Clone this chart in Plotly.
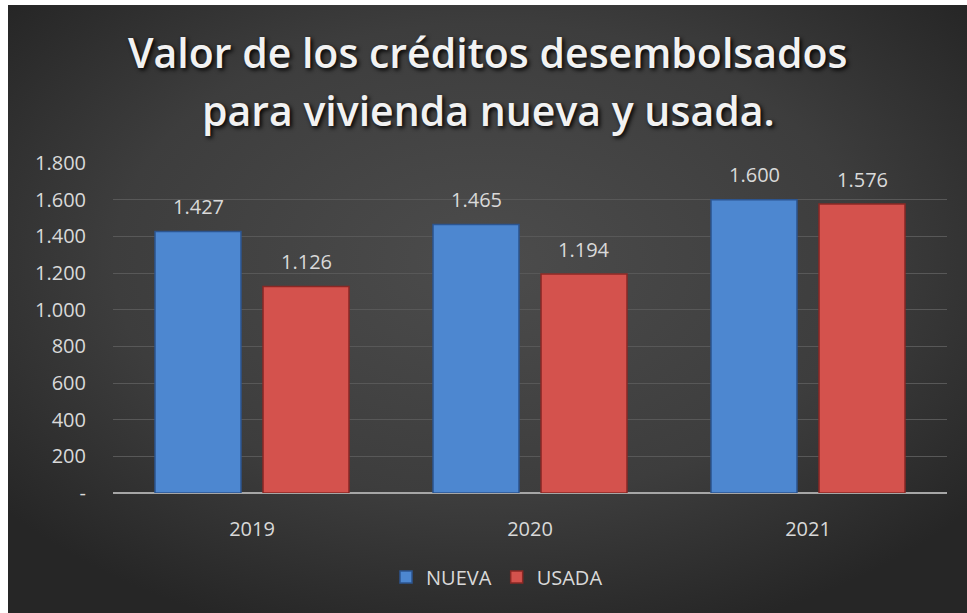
import base64
import plotly.graph_objects as go

years = ["2019", "2020", "2021"]
nueva = [1427, 1465, 1600]
usada = [1126, 1194, 1576]
nueva_labels = ["1.427", "1.465", "1.600"]
usada_labels = ["1.126", "1.194", "1.576"]
y_ticks = [0, 200, 400, 600, 800, 1000, 1200, 1400, 1600, 1800]
y_ticktext = ["-", "200", "400", "600", "800", "1.000", "1.200", "1.400", "1.600", "1.800"]
title_lines = ["Valor de los créditos desembolsados", "para vivienda nueva y usada."]

W, H = 967, 613
L, R, T, B = 113, 20, 163, 120
pw, ph = W - L - R, H - T - B

svg = '''<svg xmlns="http://www.w3.org/2000/svg" width="959" height="608" viewBox="0 0 959 608" preserveAspectRatio="none">
<defs><radialGradient id="g" cx="50%" cy="42%" r="65%">
<stop offset="0%" stop-color="#4c4c4c"/><stop offset="60%" stop-color="#3d3d3d"/><stop offset="100%" stop-color="#262626"/>
</radialGradient></defs><rect width="959" height="608" fill="url(#g)"/></svg>'''
src = "data:image/svg+xml;base64," + base64.b64encode(svg.encode()).decode()

txt = "#d9d9d9"
fnt = "Open Sans"

fig = go.Figure()
fig.add_trace(go.Bar(name="NUEVA", x=years, y=nueva,
                     marker=dict(color="#4d87d0", line=dict(color="#2c5590", width=1.5))))
fig.add_trace(go.Bar(name="USADA", x=years, y=usada,
                     marker=dict(color="#d4524d", line=dict(color="#8a2825", width=1.5))))

ann = []
for i, yr in enumerate(years):
    ann.append(dict(x=i, y=nueva[i], text=nueva_labels[i], xref="x", yref="y", showarrow=False,
                    xshift=-54, yshift=25, font=dict(size=20, color=txt, family=fnt)))
    ann.append(dict(x=i, y=usada[i], text=usada_labels[i], xref="x", yref="y", showarrow=False,
                    xshift=54, yshift=25, font=dict(size=20, color=txt, family=fnt)))
for line, py in zip(title_lines, [52, 110]):
    ann.append(dict(x=(488 - L) / pw, y=(T + ph - py) / ph, xref="paper", yref="paper",
                    text=line, showarrow=False, xanchor="center", yanchor="middle",
                    font=dict(size=41, color="#f2f2f2", family=fnt, weight=600,
                              shadow="2px 2px 4px #000")))

fig.update_layout(
    width=W, height=H,
    margin=dict(l=L, r=R, t=T, b=B),
    paper_bgcolor="white",
    plot_bgcolor="rgba(0,0,0,0)",
    barmode="group", bargap=0.223, bargroupgap=0.204,
    showlegend=True,
    legend=dict(orientation="h", x=(497 - L) / pw, xanchor="center",
                y=(T + ph - 577) / ph, yanchor="middle",
                font=dict(size=20, color=txt, family=fnt), bgcolor="rgba(0,0,0,0)"),
    annotations=ann,
    images=[dict(source=src, xref="paper", yref="paper",
                 x=(8 - L) / pw, y=(T + ph - 5) / ph,
                 sizex=(W - 8) / pw, sizey=(H - 5) / ph,
                 sizing="stretch", layer="below", xanchor="left", yanchor="top")],
    xaxis=dict(type="category", range=[-0.5, 2.5], showgrid=False, showline=False, zeroline=False,
               tickfont=dict(size=20, color=txt, family=fnt), ticklabelstandoff=22),
    yaxis=dict(range=[0, 1800], tickvals=y_ticks, ticktext=y_ticktext,
               showgrid=True, gridcolor="#585858", gridwidth=1,
               zeroline=True, zerolinecolor="#a6a6a6", zerolinewidth=2,
               tickfont=dict(size=20, color=txt, family=fnt), ticklabelstandoff=26),
)

fig.write_html("out.html", config={"displayModeBar": False},
               post_script="document.body.style.margin='0';document.body.style.overflow='hidden';")
